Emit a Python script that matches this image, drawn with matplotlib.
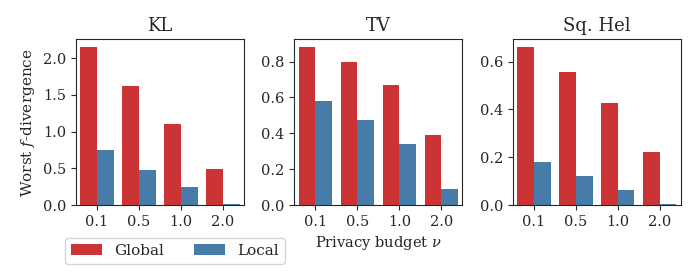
import numpy as np
import matplotlib
matplotlib.use("Agg")
import matplotlib.pyplot as plt

# dados
budgets = ["0.1", "0.5", "1.0", "2.0"]
titles = ["KL", "TV", "Sq. Hel"]
global_vals = [
    [2.15, 1.62, 1.11, 0.49],
    [0.88, 0.80, 0.67, 0.39],
    [0.66, 0.555, 0.425, 0.22],
]
local_vals = [
    [0.75, 0.48, 0.24, 0.02],
    [0.58, 0.475, 0.34, 0.09],
    [0.18, 0.12, 0.063, 0.005],
]

red = "#cb3335"
blue = "#477ca8"
dark = "#262626"

plt.rcParams["font.family"] = "DejaVu Serif"
plt.rcParams["axes.edgecolor"] = dark
plt.rcParams["xtick.color"] = dark
plt.rcParams["ytick.color"] = dark
plt.rcParams["text.color"] = dark
plt.rcParams["axes.labelcolor"] = dark
plt.rcParams["mathtext.fontset"] = "dejavuserif"

fig, axs = plt.subplots(1, 3, figsize=(6.97, 2.73), dpi=100)
fig.subplots_adjust(left=0.109, right=0.9766, top=0.856, bottom=0.249, wspace=0.30)

x = np.arange(len(budgets))
w = 0.4
for i, ax in enumerate(axs):
    ax.bar(x - w / 2, global_vals[i], w, color=red, linewidth=0, label="Global")
    ax.bar(x + w / 2, local_vals[i], w, color=blue, linewidth=0, label="Local")
    ax.set_xticks(x)
    ax.set_xticklabels(budgets)
    ax.set_xlim(-0.5, 3.5)
    ax.set_title(titles[i], fontsize=13)
    ax.tick_params(labelsize=10.5)

axs[0].set_ylabel("Worst $f$-divergence", fontsize=11)
axs[1].set_xlabel(r"Privacy budget $\nu$", fontsize=10.5)

h, l = axs[0].get_legend_handles_labels()
fig.legend(h, l, ncol=2, loc="upper left", fontsize=11,
           bbox_to_anchor=(65 / 697, 1 - 237.7 / 273), borderaxespad=0)

fig.savefig("out.png", dpi=100)
